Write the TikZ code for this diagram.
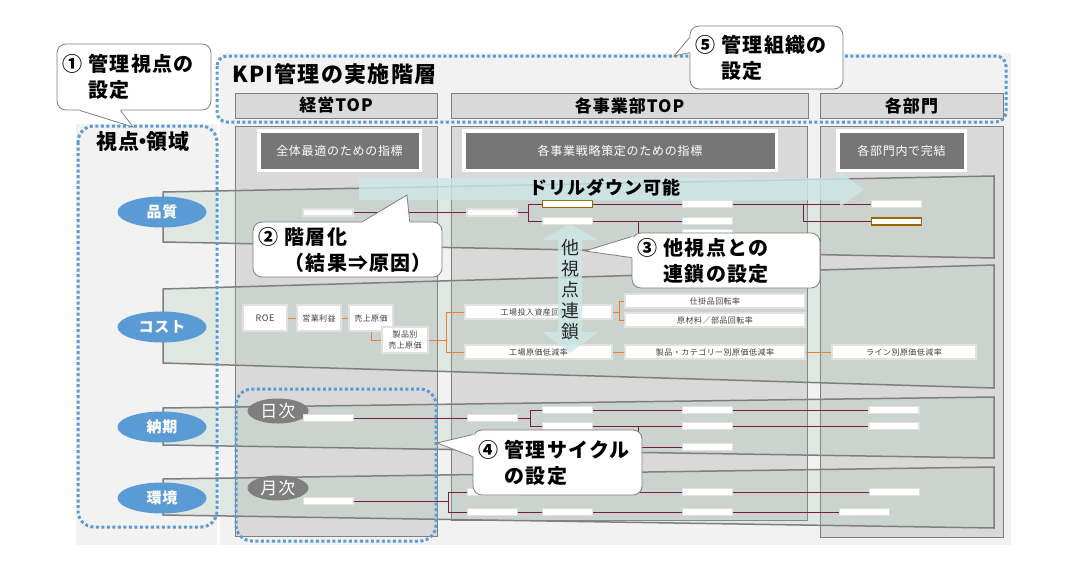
\documentclass[tikz,border=0pt]{standalone}
\usepackage{fontspec}
\setmainfont{Noto Sans CJK JP}[LetterSpace=6]
\usetikzlibrary{shapes.geometric,calc}
\definecolor{bglight}{RGB}{242,242,242}
\definecolor{panelgray}{RGB}{217,217,217}
\definecolor{edgegray}{RGB}{127,127,127}
\definecolor{darkhead}{RGB}{118,118,118}
\definecolor{bandfill}{RGB}{147,187,162}
\definecolor{viewblue}{RGB}{91,155,213}
\definecolor{linkred}{RGB}{122,28,68}
\definecolor{linkorange}{RGB}{237,125,49}
\definecolor{keybrown}{RGB}{156,101,0}
\definecolor{arrowteal}{RGB}{205,232,232}
\definecolor{boxedge}{RGB}{225,225,225}
\definecolor{smalltext}{RGB}{64,64,64}
\begin{document}
\begin{tikzpicture}[x = 1pt, y = -1pt,
  panel/.style = {fill = panelgray, draw = edgegray, line width = .8pt},
  headbox/.style = {fill = panelgray, draw = edgegray, line width = .8pt, minimum height = 25pt, font = \fontsize{17}{20}\selectfont\bfseries},
  subhead/.style = {fill = darkhead, draw = white, line width = 3.5pt, text = white, inner sep = 0pt, minimum height = 39.5pt, font = \fontsize{12}{14}\selectfont},
  band/.style = {fill = bandfill, fill opacity = .2, draw = edgegray, line width = 1.5pt},
  viewpt/.style = {ellipse, fill = viewblue, text = white, minimum width = 89pt, minimum height = 31pt, inner sep = 0pt, font = \fontsize{15}{17}\selectfont\bfseries},
  cyclept/.style = {ellipse, fill = edgegray, text = white, minimum width = 61pt, minimum height = 25pt, inner sep = 0pt, font = \fontsize{17}{19}\selectfont},
  kpi/.style = {fill = white, draw = boxedge, line width = 1.5pt, minimum width = 50pt, minimum height = 7pt, inner sep = 0pt},
  keykpi/.style = {kpi, draw = keybrown},
  costkpi/.style = {fill = white, draw = boxedge, line width = 1.5pt, inner sep = 0pt, text = smalltext, font = \fontsize{8}{11}\selectfont},
  link/.style = {draw = linkred, line width = 1pt},
  costlink/.style = {draw = linkorange, line width = 1pt},
  dotbox/.style = {draw = viewblue, line width = 3pt, dash pattern = on 3pt off 2.5pt},
  note/.style = {fill = white, draw = edgegray, line width = .8pt, rounded corners = 9pt, align = left, inner xsep = 5pt, inner ysep = 0pt, font = \fontsize{20}{26}\selectfont\bfseries},
  notetip/.style = {draw = edgegray, line width = .8pt},
  bigarrow/.style = {fill = arrowteal, fill opacity = .8}]
\useasboundingbox (0,0) rectangle (1070,570);
\fill[bglight] (76,124) rectangle (217,545);
\fill[bglight] (220,53) rectangle (1011,545);
\draw[panel] (235,126) rectangle (437,536);
\draw[panel] (451,126) rectangle (807,520);
\draw[panel] (820,126) rectangle (1003,537);
\node[headbox, minimum width = 202pt] (toplevel) at (336,105.5) {経営TOP};
\node[headbox, minimum width = 357pt] (divlevel) at (629.5,105.5) {各事業部TOP};
\node[headbox, minimum width = 183pt] (deptlevel) at (911.5,105.5) {各部門};
\node[subhead, minimum width = 161.5pt] (topgoal) at (339.5,150.5) {全体最適のための指標};
\node[subhead, minimum width = 312.5pt] (divgoal) at (620,150.5) {各事業戦略策定のための指標};
\node[subhead, minimum width = 127.5pt] (deptgoal) at (901.5,150.5) {各部門内で完結};
\node[anchor = west, inner sep = 0pt, font = \fontsize{22}{24}\selectfont\bfseries] (kpititle) at (232,74) {KPI管理の実施階層};
\node[font = \fontsize{21}{24}\selectfont\bfseries] (viewarea) at (143,142) {視点\kern-.35em・\kern-.35em領域};

\draw[band] (163,192) -- (994,176) -- (994,258) -- (163,242) -- cycle;
\draw[band] (163,289) -- (994,265) -- (994,388) -- (163,363) -- cycle;
\draw[band] (163,408) -- (994,397) -- (994,458) -- (163,445) -- cycle;
\draw[band] (163,479) -- (994,467) -- (994,528) -- (163,515) -- cycle;

\node[viewpt] (quality) at (162,212) {品質};
\node[viewpt] (cost) at (162,327) {コスト};
\node[viewpt] (delivery) at (162,427) {納期};
\node[viewpt] (environment) at (162,498) {環境};
\node[cyclept] (daily) at (278,411) {日次};
\node[cyclept] (monthly) at (278,488) {月次};

\node[kpi] (Q1) at (328,212.5) {};
\node[kpi] (Q2) at (492,212.5) {};
\node[keykpi] (Q3) at (567.5,204) {};
\node[kpi] (Q4) at (567.5,221) {};
\node[kpi] (Q5) at (707.5,204) {};
\node[kpi] (Q6) at (707.5,221) {};
\node[kpi] (Q7) at (707.5,233) {};
\node[kpi] (Q8) at (896.5,204) {};
\node[keykpi] (Q9) at (896.5,221.5) {};
\draw[link] (Q1) -- (Q2);
\draw[link] (Q2.east) -- ++(11,0) |- (Q3.west);
\draw[link] (Q2.east) -- ++(11,0) |- (Q4.west);
\draw[link] (Q3) -- (Q5);
\draw[link] (Q5) -- (Q8);
\draw[link] (Q5.east) -- ++(70,0) |- (Q9.west);
\draw[link] (Q4) -- (Q6);
\draw[link] (Q4.east) -- ++(45,0) |- (Q7.west);

\node[costkpi, minimum width = 44pt, minimum height = 26pt, font = \fontsize{9}{11}\selectfont] (C1) at (265,318) {ROE};
\node[costkpi, minimum width = 44pt, minimum height = 26pt] (C2) at (319,318) {営業利益};
\node[costkpi, minimum width = 44pt, minimum height = 26pt] (C3) at (371,318) {売上原価};
\node[costkpi, minimum width = 46pt, minimum height = 26pt, align = center] (C4) at (405,340) {製品別\\売上原価};
\node[costkpi, minimum width = 147pt, minimum height = 14pt] (C5) at (538.5,312) {工場投入資産回転率};
\node[costkpi, minimum width = 147pt, minimum height = 14pt] (C6) at (538.5,352) {工場原価低減率};
\node[costkpi, minimum width = 180pt, minimum height = 14pt] (C7) at (715,301) {仕掛品回転率};
\node[costkpi, minimum width = 180pt, minimum height = 14pt] (C8) at (715,320) {原材料／部品回転率};
\node[costkpi, minimum width = 180pt, minimum height = 14pt] (C9) at (715,352) {製品・カテゴリー別原価低減率};
\node[costkpi, minimum width = 144pt, minimum height = 14pt] (C10) at (904,352) {ライン別原価低減率};
\draw[costlink] (C1) -- (C2);
\draw[costlink] (C2) -- (C3);
\draw[costlink] (C3.south) |- (C4.west);
\draw[costlink] (C4.east) -- ++(18,0) |- (C5.west);
\draw[costlink] (C4.east) -- ++(18,0) |- (C6.west);
\draw[costlink] (C5.east) -- ++(7,0) |- (C7.west);
\draw[costlink] (C5.east) -- ++(7,0) |- (C8.west);
\draw[costlink] (C6) -- (C9);
\draw[costlink] (C9) -- (C10);

\node[kpi] (N1) at (328.5,418) {};
\node[kpi] (N2) at (492.5,418) {};
\node[kpi] (N3) at (567.5,410) {};
\node[kpi] (N4) at (567.5,426) {};
\node[kpi] (N5) at (707.5,410) {};
\node[kpi] (N6) at (707.5,426) {};
\node[kpi] (N7) at (707.5,447) {};
\node[kpi] (N8) at (894,410) {};
\node[kpi] (N9) at (894,426) {};
\draw[link] (N1) -- (N2);
\draw[link] (N2.east) -- ++(12,0) |- (N3.west);
\draw[link] (N2.east) -- ++(12,0) |- (N4.west);
\draw[link] (N3) -- (N5);
\draw[link] (N5) -- (N8);
\draw[link] (N4) -- (N6);
\draw[link] (N6) -- (N9);
\draw[link] (N4.east) -- ++(45,0) |- (N7.west);

\node[kpi] (E1) at (328.5,501) {};
\node[kpi] (E2) at (492.5,492) {};
\node[kpi] (E3) at (492.5,512) {};
\node[kpi] (E4) at (567.5,512) {};
\node[kpi] (E5) at (707.5,492) {};
\node[kpi] (E6) at (707.5,512) {};
\node[kpi] (E7) at (894.5,492) {};
\node[kpi] (E8) at (864.5,512) {};
\draw[link] (E1.east) -- ++(94,0) |- (E2.west);
\draw[link] (E1.east) -- ++(94,0) |- (E3.west);
\draw[link] (E2) -- (E5);
\draw[link] (E5) -- (E7);
\draw[link] (E3) -- (E4);
\draw[link] (E4) -- (E6);
\draw[link] (E6) -- (E8);

\fill[bigarrow] (359,178) -- (840,178) -- (840,172) -- (864,189.5) -- (840,207) -- (840,200) -- (359,200) -- cycle;
\node[font = \fontsize{18}{20}\selectfont\bfseries] (drill) at (605,188) {ドリルダウン可能};
\fill[bigarrow] (570,224) -- (598,240) -- (582,240) -- (582,332) -- (598,332) -- (570,353) -- (542,332) -- (558,332) -- (558,240) -- (542,240) -- cycle;
\node[align = center, text = black!85, font = \fontsize{18}{21}\selectfont] (chain) at (570,290) {他\\視\\点\\連\\鎖};

\draw[dotbox, rounded corners = 16pt] (78,126) rectangle (217,527);
\draw[dotbox, rounded corners = 10pt] (217,56) rectangle (1006,122);
\draw[dotbox, rounded corners = 16pt] (236,389) rectangle (436,541);

\node[note, minimum width = 154pt, minimum height = 66pt, text width = 144pt] (setview) at (134,77) {① 管理視点の\\\phantom{① }設定};
\coordinate (tip1) at (133,127);
\fill[white] ($(setview.south west)+(23,-2)$) -- ($(setview.south west)+(23,0)$) -- (tip1) -- ($(setview.south west)+(64,0)$) -- ($(setview.south west)+(64,-2)$) -- cycle;
\draw[notetip] ($(setview.south west)+(23,0)$) -- (tip1) -- ($(setview.south west)+(64,0)$);

\node[note, minimum width = 153pt, minimum height = 63pt, text width = 143pt] (setorg) at (766.5,57.5) {⑤ 管理組織の\\\phantom{⑤ }設定};
\coordinate (tip5) at (674,56);
\fill[white] ($(setorg.north west)+(2,12)$) -- ($(setorg.north west)+(0,12)$) -- (tip5) -- ($(setorg.north west)+(0,27)$) -- ($(setorg.north west)+(2,27)$) -- cycle;
\draw[notetip] ($(setorg.north west)+(0,12)$) -- (tip5) -- ($(setorg.north west)+(0,27)$);

\node[note, minimum width = 189pt, minimum height = 55pt, text width = 179pt] (layering) at (347.5,249.5) {② 階層化\\\phantom{② }（結果⇒原因）};
\coordinate (tip2) at (407,195);
\fill[white] ($(layering.north west)+(110,2)$) -- ($(layering.north west)+(110,0)$) -- (tip2) -- ($(layering.north west)+(157,0)$) -- ($(layering.north west)+(157,2)$) -- cycle;
\draw[notetip] ($(layering.north west)+(110,0)$) -- (tip2) -- ($(layering.north west)+(157,0)$);

\node[note, minimum width = 188pt, minimum height = 55pt, text width = 178pt] (linkage) at (726,260.5) {③ 他視点との\\\phantom{③ }連鎖の設定};
\coordinate (tip3) at (585,251);
\fill[white] ($(linkage.north west)+(2,4)$) -- ($(linkage.north west)+(0,4)$) -- (tip3) -- ($(linkage.north west)+(0,25)$) -- ($(linkage.north west)+(2,25)$) -- cycle;
\draw[notetip] ($(linkage.north west)+(0,4)$) -- (tip3) -- ($(linkage.north west)+(0,25)$);

\node[note, minimum width = 169pt, minimum height = 65pt, text width = 159pt] (cyclenote) at (557.5,462.5) {④ 管理サイクル\\\phantom{④ }の設定};
\coordinate (tip4) at (437,443);
\fill[white] ($(cyclenote.north west)+(2,5)$) -- ($(cyclenote.north west)+(0,5)$) -- (tip4) -- ($(cyclenote.north west)+(0,27)$) -- ($(cyclenote.north west)+(2,27)$) -- cycle;
\draw[notetip] ($(cyclenote.north west)+(0,5)$) -- (tip4) -- ($(cyclenote.north west)+(0,27)$);
\end{tikzpicture}
\end{document}
